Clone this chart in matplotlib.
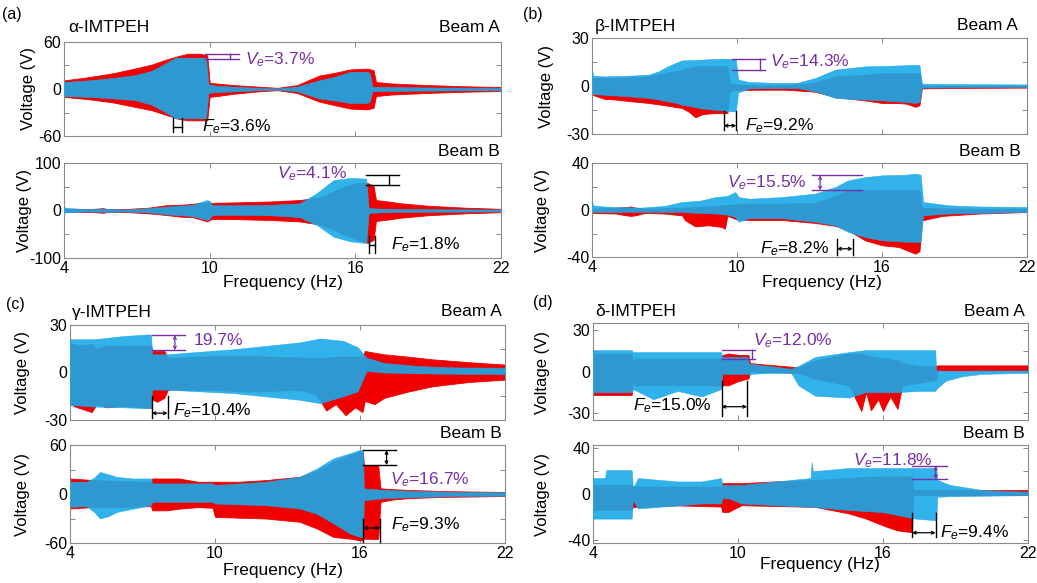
import matplotlib
matplotlib.use("Agg")
import matplotlib.pyplot as plt

plt.rcParams["font.family"] = ["Liberation Sans", "DejaVu Sans"]
plt.rcParams["mathtext.fontset"] = "custom"
plt.rcParams["mathtext.rm"] = "Liberation Sans"
plt.rcParams["mathtext.it"] = "Liberation Sans:italic"

# ---------------------------------------------------------------------------
# Voltage envelopes (upper / lower) versus excitation frequency, Hz / V
# ---------------------------------------------------------------------------
# (a) alpha-IMTPEH, beam A
aA_red_f = [4.0, 5.0, 6.0, 6.9, 7.6, 8.2, 8.7, 9.1, 9.6, 9.9, 10.0, 10.3, 11.0, 12.0, 12.8,
            13.6, 14.5, 15.2, 15.8, 16.5, 16.75, 16.85, 17.5, 19.0, 20.5, 22.0]
aA_red_hi = [11, 15, 20, 26, 31, 37.5, 42, 45, 45, 43, 8, 7, 5, 3, 1.5,
             5, 17, 21, 25, 26, 24, 9, 7, 5, 3.5, 2.5]
aA_red_lo = [-10, -13, -17, -22.7, -27, -33, -38, -40, -40, -40, -10, -9, -6, -3, -1.5,
             -5, -16, -21, -25, -26, -24, -9, -7, -5, -3.5, -2.5]
aA_blue_f = [4.0, 5.0, 6.0, 6.9, 7.6, 8.2, 8.6, 9.0, 9.5, 9.85, 9.95, 10.3, 11.0, 12.0, 12.8,
             13.6, 14.5, 15.2, 15.8, 16.5, 16.6, 16.7, 17.5, 19.0, 22.0]
aA_blue_hi = [9, 11, 14, 17.6, 23, 33, 40, 40, 40, 40, 6, 4, 3, 1.5, 0.8,
              3, 11, 16, 22, 22, 20, 3, 2.5, 2, 1.5]
aA_blue_lo = [-9, -10, -12, -14, -20, -30, -37.5, -37.5, -37.5, -37.5, -5, -4, -3, -1.5, -0.8,
              -3, -12, -15, -18, -18, -16, -3, -2.5, -2, -1.5]

# (a) alpha-IMTPEH, beam B
aB_red_f = [4.0, 5.0, 5.4, 5.6, 5.8, 6.5, 7.5, 8.2, 8.8, 9.3, 9.9, 10.0, 10.1, 11.0, 12.5,
            13.7, 14.6, 15.3, 16.0, 16.5, 16.75, 16.85, 17.2, 17.9, 19.0, 20.5, 22.0]
aB_red_hi = [4, 3, 4, 5, 3, 3, 6, 11, 12, 14, 18.5, 17, 16, 17, 19,
             22, 28, 45, 58, 58, 52, 22, 20, 15, 10, 6, 3.5]
aB_red_lo = [-2.5, -3, -4, -5, -3, -3, -6, -9.4, -13, -14, -23, -20, -18, -18, -20,
             -23, -30, -45, -60, -68, -62, -22, -20, -15, -10, -6, -3.5]
aB_blue_f = [4.0, 4.1, 5.0, 5.6, 6.5, 7.5, 8.2, 8.8, 9.3, 9.9, 10.0, 10.1, 11.0, 12.5,
             13.7, 14.4, 15.1, 15.8, 16.45, 16.55, 17.0, 18.0, 20.0, 22.0]
aB_blue_hi = [8, 5, 3, 4, 2, 5, 8, 10, 12, 22, 20, 11.5, 11, 12,
              15, 36, 64, 68.6, 67, 5, 4, 3, 2.5, 2]
aB_blue_lo = [-4.5, -4, -2, -3, -2, -4, -8, -10, -12, -20, -18, -9.4, -9, -10,
              -14, -30, -55, -65, -68.6, -5, -4, -3, -2.5, -2]

# (b) beta-IMTPEH, beam A
bA_red_f = [4.0, 4.5, 5.0, 5.6, 6.35, 7.0, 7.72, 8.0, 8.27, 8.6, 9.0, 9.4, 9.6, 9.7, 10.0,
            11.0, 12.0, 13.2, 14.1, 15.3, 16.0, 16.6, 17.0, 17.38, 17.55, 17.65, 19.0, 22.0]
bA_red_hi = [5, 5, 5, 5.5, 6, 8, 10, 11.5, 12.3, 12.3, 12.3, 12.3, 12.3, 1.5, 1,
             0.5, 0.5, 2, 6, 7, 8, 8, 8, 8, 8, 0.2, 0.2, 0.2]
bA_red_lo = [-5.4, -8, -8.5, -9.5, -10.6, -12, -13.75, -16, -19.5, -17.5, -17, -17, -17, -3, -2.5,
             -2.3, -2.3, -3.5, -7, -9, -10.6, -10.6, -11, -13, -12, -1.5, -1.2, -1]
bA_blue_f = [4.0, 4.05, 4.5, 5.6, 6.35, 6.76, 7.1, 7.45, 7.72, 8.55, 9.2, 9.8, 9.95, 10.05,
             10.5, 11.5, 12.5, 13.24, 14.07, 15.3, 16.0, 17.0, 17.38, 17.55, 17.65, 19.0, 22.0]
bA_blue_hi = [10, 6.5, 6, 6.5, 7.1, 9.2, 12, 14.4, 16, 16.5, 17, 17, 17, 4,
              2.5, 2, 2, 5, 10.2, 12.3, 12.5, 13, 13.3, 13, 1.5, 1.2, 1]
bA_blue_lo = [-4.4, -5, -5.5, -6.5, -7.5, -8.5, -9.5, -10.5, -11.7, -14, -15, -15.8, -15.8, -4,
              -1.5, -1.3, -1.3, -3.3, -7.5, -8.5, -9, -10, -10.6, -10, -1, -0.8, -0.6]

# (b) beta-IMTPEH, beam B
bB_red_f = [4.0, 5.0, 5.4, 5.6, 5.8, 6.2, 7.0, 7.72, 7.86, 8.27, 8.83, 9.38, 9.5, 9.6, 10.0,
            10.5, 11.86, 13.24, 14.07, 14.6, 15.3, 16.0, 16.7, 17.38, 17.55, 17.65, 18.5, 20.0, 22.0]
bB_red_hi = [1, 2, 2.5, 3, 2, 1, 1.5, 2, 2, 2.5, 3, 4, 4, 4, 5,
             5.4, 5.4, 6, 12, 16.7, 16.7, 16.7, 16.7, 16.7, 16.7, 2, 1.5, 1, 1]
bB_red_lo = [-2.6, -3, -4.5, -5, -4.5, -2.5, -3, -4.5, -8.8, -13.9, -13, -14.5, -16, -5, -8,
             -8.5, -8.5, -11, -13.5, -17.3, -25.8, -30, -31.5, -37.2, -35, -8.8, -5, -3, -1.7]
bB_blue_f = [4.0, 4.05, 4.5, 5.0, 6.0, 7.0, 7.72, 8.5, 9.1, 9.6, 9.93, 10.07, 10.5, 11.86,
             13.24, 14.07, 14.6, 15.3, 16.0, 17.0, 17.38, 17.6, 17.7, 18.76, 20.0, 22.0]
bB_blue_hi = [6.8, 4, 3, 2.6, 2, 3.5, 6.8, 8, 11, 12, 15.3, 11, 9.6, 11,
              14, 19.6, 25.2, 28, 29.5, 30, 31, 30, 6.8, 4, 3, 2.6]
bB_blue_lo = [-1.7, -1.7, -1.7, -1.7, -1.5, -1.7, -1.7, -2.5, -3, -4, -6, -10, -7, -7,
              -10, -13, -18.7, -23, -25.8, -27, -27.2, -27, -4.5, -3, -2.5, -1.7]

# (c) gamma-IMTPEH, beam A
cA_red_f = [4.0, 4.3, 4.9, 5.1, 5.5, 6.2, 7.0, 7.35, 7.4, 7.6, 7.9, 8.05, 8.5, 10.0, 11.5,
            13.5, 14.2, 14.6, 15.0, 15.4, 15.8, 16.1, 16.2, 16.6, 17.0, 18.0, 19.0, 20.5, 22.0]
cA_red_hi = [19, 17, 18, 15, 17, 17, 17, 17, 13.6, 13.6, 13.6, 9.4, 9.4, 10.4, 10.4,
             9.4, 9.4, 9.4, 10, 10, 10, 10, 13.6, 12.5, 11.5, 10, 8.3, 6.5, 5]
cA_red_lo = [-20, -22, -25, -20, -22, -21, -22, -22.5, -17, -18.5, -16, -10.8, -10.8, -11, -12,
             -11, -14, -24, -20, -27, -22, -25, -18, -20, -16, -12, -8.7, -6, -4.5]
cA_blue_f = [4.0, 5.0, 6.2, 7.17, 7.35, 7.4, 8.0, 10.76, 13.5, 14.35, 15.3, 15.9, 16.27,
             17.0, 18.5, 20.0, 22.0]
cA_blue_hi = [21, 21, 23, 24, 24, 11.5, 11.5, 14.7, 19, 21.5, 20, 16, 9.4,
              6, 4, 3.2, 3]
cA_blue_lo = [-20.4, -21.5, -22, -22.5, -22.5, -10.8, -10.8, -13, -17.2, -19.4, -15, -12, 1,
              0, -0.5, -0.8, -1]

# (c) gamma-IMTPEH, beam B
cB_red_f = [4.0, 5.0, 6.0, 7.0, 7.35, 7.4, 8.0, 8.5, 9.3, 9.9, 10.0, 11.0, 12.1, 13.5, 14.2,
            14.9, 15.6, 16.0, 16.12, 16.16, 16.5, 16.75, 16.85, 17.3, 18.0, 19.5, 22.0]
cB_red_hi = [19, 17, 16, 15, 15, 19, 19, 19, 15, 15, 15, 15, 17, 21, 28,
             40, 48, 52, 52, 35.4, 35.4, 35.4, 7, 6, 5, 3.5, 2.5]
cB_red_lo = [-17.8, -15.8, -15.8, -15, -15, -20, -20, -18, -16, -17, -28, -29, -30, -34, -42,
             -52.6, -54.7, -56.7, -56.7, -54.7, -55, -55, -9.6, -7, -5, -3.5, -2.5]
cB_blue_f = [4.0, 4.69, 5.0, 5.24, 5.6, 5.93, 6.6, 7.3, 7.35, 7.4, 9.9, 10.0, 12.1, 13.5,
             14.2, 14.9, 15.6, 16.0, 16.12, 16.16, 17.0, 18.5, 20.0, 22.0]
cB_blue_hi = [15, 15, 20, 27, 24, 21, 19, 19, 19, 13, 13, 11, 15, 21,
              31, 43.6, 50, 54, 54, 6.8, 5, 3.5, 2.5, 2]
cB_blue_lo = [-15.8, -15, -22, -30, -27, -22, -18, -14, -14, -9.6, -9.6, -11.7, -13.7, -17.8,
              -24, -36, -48.5, -52.6, -52.6, -7.6, -5, -3.5, -2.5, -2]

# (d) delta-IMTPEH, beam A
dA_red_f = [4.0, 5.6, 5.66, 5.7, 7.0, 8.5, 9.3, 9.32, 9.6, 10.0, 10.43, 10.5, 11.5, 12.5, 13.2,
            14.0, 14.6, 15.1, 15.3, 15.5, 15.8, 16.0, 16.3, 16.6, 16.8, 17.5, 18.2, 18.25, 20.0, 22.0]
dA_red_hi = [13, 13, 3, 9.3, 9.3, 9.3, 9.3, 11.7, 13, 12, 12, 6, 4.5, 3, 8,
             11, 13, 13, 12, 11, 10, 10, 9, 8, 6, 4, 4, 4.4, 4.4, 4.4]
dA_red_lo = [-17, -17, -3, -10, -10, -10, -10, -10, -10, -7, -5, 0, -0.5, -1, -5.4,
             -8, -10, -28.5, -15, -28, -20, -28.5, -18, -27, -10, -8, -6, 0.7, 0.7, 0.7]
dA_blue_f = [4.0, 5.6, 5.66, 6.5, 7.5, 8.5, 9.3, 9.35, 10.4, 10.45, 11.5, 12.2, 12.5, 13.2,
             14.6, 15.26, 16.5, 17.5, 18.16, 18.2, 18.6, 19.3, 20.1, 22.0]
dA_blue_hi = [15.4, 15.4, 14, 14, 14, 14, 14, 10.5, 10.5, 5.6, 3.5, 2, 4, 10.5,
              14, 15.4, 15.4, 15.4, 15.4, 0.7, 0.5, 0.5, 0.7, 0.7]
dA_blue_lo = [-15, -15, -12.7, -20, -14, -18, -12.7, -1.7, -1.7, -1.7, -1, -1, -10, -17.5,
              -18.8, -15, -15, -14, -14, -12.7, -6.6, -3.4, -1.7, -1]

# (d) delta-IMTPEH, beam B
dB_red_f = [4.0, 5.6, 5.65, 5.86, 7.5, 9.3, 9.35, 9.6, 10.15, 11.5, 13.2, 14.57, 15.3, 16.0,
            16.6, 17.2, 17.25, 19.0, 22.0]
dB_red_hi = [8, 8, 6.5, 6.5, 6.5, 6.5, 9.5, 9.5, 9.5, 11, 12.4, 14, 15, 15.4,
             15.4, 15.4, 3.5, 3.5, 3.5]
dB_red_lo = [-14, -14, -11.3, -11.3, -10, -11, -15.7, -15.7, -9.8, -10.5, -11.3, -17, -21.6, -27.6,
             -32, -33.5, -1, -1, -1]
dB_blue_f = [4.0, 4.5, 4.55, 5.6, 5.65, 5.86, 7.5, 8.5, 9.3, 9.35, 9.6, 10.15, 13.0, 13.05,
             13.1, 14.57, 16.0, 17.34, 18.2, 18.25, 18.76, 20.1, 22.0]
dB_blue_hi = [14, 14, 21, 21, 5, 14, 11, 11, 14, 8, 8, 8, 14, 28,
              20, 22.8, 22.8, 22.8, 22.8, 12.4, 8, 3.5, 2]
dB_blue_lo = [-21.6, -21.6, -21.6, -21.6, -5, -12.7, -10, -8.3, -8.3, -3.8, -3.8, -8.3, -11.3, -11.3,
              -11.3, -14, -16, -21.6, -23, -2.4, -2, -1.5, -1]

# axis settings
x_ticks = [4, 10, 16, 22]
x_tick_labels = ["4", "10", "16", "22"]
y_limits = {"aA": 60, "aB": 100, "bA": 30, "bB": 40, "cA": 30, "cB": 60, "dA": 35, "dB": 43}
y_label_ticks = {"aA": 60, "aB": 100, "bA": 30, "bB": 40, "cA": 30, "cB": 60, "dA": 30, "dB": 40}

# ---------------------------------------------------------------------------
RED = "#F00000"
BLUE = "#1AAAE8"
PURPLE = "#7A2EA6"
W, H = 1037, 583

fig = plt.figure(figsize=(W / 100, H / 100), dpi=100)


def px_axes(left, right, top, bottom):
    return fig.add_axes([left / W, 1 - bottom / H, (right - left) / W, (bottom - top) / H])


def fig_text(x, y, s, **kw):
    fig.text(x / W, 1 - y / H, s, **kw)


def draw_signal(ax, key, rf, rhi, rlo, bf, bhi, blo, show_x):
    ax.fill_between(rf, rlo, rhi, color=RED, lw=0.6, zorder=2)
    ax.fill_between(bf, blo, bhi, facecolor=BLUE, edgecolor=BLUE, lw=0.4, alpha=0.9, zorder=3)
    lim = y_limits[key]
    tl = y_label_ticks[key]
    ax.set_xlim(4, 22)
    ax.set_ylim(-lim, lim)
    ax.set_xticks(x_ticks)
    ax.set_yticks([-tl, -tl / 2, 0, tl / 2, tl])
    ax.set_yticklabels([f"-{tl}", "", "0", "", f"{tl}"])
    if show_x:
        ax.set_xticklabels(x_tick_labels)
    else:
        ax.set_xticklabels([])
    ax.tick_params(direction="in", top=True, right=True, length=3.5, width=0.7,
                   color="#8a8a8a", labelsize=11.5, pad=2)
    for sp in ax.spines.values():
        sp.set_color("#8a8a8a")
        sp.set_linewidth(0.8)


def level_marker(ax, x0, x1, y_top, y_bot, xm, color, arrow):
    ax.plot([x0, x1], [y_top, y_top], color=color, lw=1.0, zorder=5, clip_on=False)
    ax.plot([x0, x1], [y_bot, y_bot], color=color, lw=1.0, zorder=5, clip_on=False)
    if arrow:
        ax.annotate("", xy=(xm, y_top), xytext=(xm, y_bot), zorder=5,
                    arrowprops=dict(arrowstyle="<->", color=color, lw=0.9,
                                    shrinkA=0, shrinkB=0, mutation_scale=5))
    else:
        ax.plot([xm, xm], [y_top, y_bot], color=color, lw=1.0, zorder=5)


def freq_marker(ax, xa, xb, y0, y1, ym, color, arrow):
    ax.plot([xa, xa], [y0, y1], color=color, lw=1.0, zorder=5, clip_on=False)
    ax.plot([xb, xb], [y0, y1], color=color, lw=1.0, zorder=5, clip_on=False)
    if arrow:
        ax.annotate("", xy=(xa, ym), xytext=(xb, ym), zorder=5,
                    arrowprops=dict(arrowstyle="<->", color=color, lw=0.9,
                                    shrinkA=0, shrinkB=0, mutation_scale=5))
    else:
        ax.plot([xa, xb], [ym, ym], color=color, lw=1.0, zorder=5)


FS = 12.5

# ---------------- (a) ----------------
axA = px_axes(64, 501, 42, 136)
draw_signal(axA, "aA", aA_red_f, aA_red_hi, aA_red_lo, aA_blue_f, aA_blue_hi, aA_blue_lo, False)
level_marker(axA, 9.8, 11.2, 45.2, 38.8, 10.85, PURPLE, False)
axA.text(11.46, 38, r"$V_e$=3.7%", color=PURPLE, fontsize=FS, va="center", zorder=6)
freq_marker(axA, 8.5, 8.85, -37.5, -54.5, -48, "black", False)
axA.text(9.67, -48, r"$F_e$=3.6%", color="black", fontsize=FS, va="center", zorder=6)

axB = px_axes(64, 501, 163, 258)
draw_signal(axB, "aB", aB_red_f, aB_red_hi, aB_red_lo, aB_blue_f, aB_blue_hi, aB_blue_lo, True)
level_marker(axB, 16.42, 17.8, 74, 53, 17.4, "black", False)
axB.text(12.77, 77, r"$V_e$=4.1%", color=PURPLE, fontsize=FS, va="center", zorder=6)
freq_marker(axB, 16.56, 16.82, -54.7, -89.5, -72, "black", False)
axB.text(17.46, -72, r"$F_e$=1.8%", color="black", fontsize=FS, va="center", zorder=6)

fig_text(12, 15, "(a)", fontsize=11.5, ha="center", va="center")
fig_text(68, 27, "α-IMTPEH", fontsize=FS, ha="left", va="center")
fig_text(500, 27, "Beam A", fontsize=FS, ha="right", va="center")
fig_text(500, 152, "Beam B", fontsize=FS, ha="right", va="center")
fig_text(28, 89, "Voltage (V)", fontsize=12, rotation=90, ha="center", va="center")
fig_text(25, 210, "Voltage (V)", fontsize=12, rotation=90, ha="center", va="center")
fig_text(283, 283, "Frequency (Hz)", fontsize=12.5, ha="center", va="center")

# ---------------- (b) ----------------
axA = px_axes(592, 1027, 38, 134)
draw_signal(axA, "bA", bA_red_f, bA_red_hi, bA_red_lo, bA_blue_f, bA_blue_hi, bA_blue_lo, False)
level_marker(axA, 9.8, 11.17, 16.9, 10.2, 10.95, PURPLE, False)
axA.text(11.38, 15, r"$V_e$=14.3%", color=PURPLE, fontsize=FS, va="center", zorder=6)
freq_marker(axA, 9.45, 9.97, -15.8, -27.7, -24.8, "black", True)
axA.text(10.35, -24.5, r"$F_e$=9.2%", color="black", fontsize=FS, va="center", zorder=6)

axB = px_axes(592, 1027, 163, 257)
draw_signal(axB, "bB", bB_red_f, bB_red_hi, bB_red_lo, bB_blue_f, bB_blue_hi, bB_blue_lo, True)
level_marker(axB, 13.1, 15.17, 29.5, 16.7, 13.44, PURPLE, True)
axB.text(12.9, 23, r"$V_e$=15.5%", color=PURPLE, fontsize=FS, va="center", ha="right", zorder=6)
freq_marker(axB, 14.14, 14.78, -24.4, -38.6, -33, "black", True)
axB.text(13.8, -33, r"$F_e$=8.2%", color="black", fontsize=FS, va="center", ha="right", zorder=6)

fig_text(533, 15, "(b)", fontsize=11.5, ha="center", va="center")
fig_text(595, 26, "β-IMTPEH", fontsize=FS, ha="left", va="center")
fig_text(1018, 26, "Beam A", fontsize=FS, ha="right", va="center")
fig_text(1021, 152, "Beam B", fontsize=FS, ha="right", va="center")
fig_text(546, 86, "Voltage (V)", fontsize=12, rotation=90, ha="center", va="center")
fig_text(543, 210, "Voltage (V)", fontsize=12, rotation=90, ha="center", va="center")
fig_text(822, 283, "Frequency (Hz)", fontsize=12.5, ha="center", va="center")

# ---------------- (c) ----------------
axA = px_axes(70, 505, 325, 420)
draw_signal(axA, "cA", cA_red_f, cA_red_hi, cA_red_lo, cA_blue_f, cA_blue_hi, cA_blue_lo, False)
level_marker(axA, 7.38, 8.76, 23.6, 14, 8.34, PURPLE, True)
axA.text(9.1, 20, "19.7%", color=PURPLE, fontsize=FS, va="center", zorder=6)
freq_marker(axA, 7.38, 8.04, -15, -29, -25.7, "black", True)
axA.text(8.27, -24, r"$F_e$=10.4%", color="black", fontsize=FS, va="center", zorder=6)

axB = px_axes(70, 505, 445, 543)
draw_signal(axB, "cB", cB_red_f, cB_red_hi, cB_red_lo, cB_blue_f, cB_blue_hi, cB_blue_lo, True)
level_marker(axB, 16.14, 17.5, 53.8, 35.4, 17.1, "black", True)
axB.text(17.24, 17, r"$V_e$=16.7%", color=PURPLE, fontsize=FS, va="center", zorder=6)
freq_marker(axB, 16.14, 16.83, -30, -58.8, -41.6, "black", True)
axB.text(17.3, -38, r"$F_e$=9.3%", color="black", fontsize=FS, va="center", zorder=6)

fig_text(15, 305, "(c)", fontsize=11.5, ha="center", va="center")
fig_text(72, 312, "γ-IMTPEH", fontsize=FS, ha="left", va="center")
fig_text(502, 312, "Beam A", fontsize=FS, ha="right", va="center")
fig_text(502, 433, "Beam B", fontsize=FS, ha="right", va="center")
fig_text(23, 372, "Voltage (V)", fontsize=12, rotation=90, ha="center", va="center")
fig_text(23, 494, "Voltage (V)", fontsize=12, rotation=90, ha="center", va="center")
fig_text(283, 570, "Frequency (Hz)", fontsize=12.5, ha="center", va="center")

# ---------------- (d) ----------------
axA = px_axes(593, 1028, 323, 420)
draw_signal(axA, "dA", dA_red_f, dA_red_hi, dA_red_lo, dA_blue_f, dA_blue_hi, dA_blue_lo, False)
level_marker(axA, 9.32, 10.7, 15.4, 9.3, 10.56, PURPLE, False)
axA.text(10.63, 22.5, r"$V_e$=12.0%", color=PURPLE, fontsize=FS, va="center", zorder=6)
freq_marker(axA, 9.32, 10.38, -6.6, -32, -25.4, "black", True)
axA.text(8.9, -25, r"$F_e$=15.0%", color="black", fontsize=FS, va="center", ha="right", zorder=6)

axB = px_axes(593, 1028, 445, 543)
draw_signal(axB, "dB", dB_red_f, dB_red_hi, dB_red_lo, dB_blue_f, dB_blue_hi, dB_blue_lo, True)
level_marker(axB, 17.2, 18.64, 24.9, 13, 18.18, PURPLE, True)
axB.text(14.77, 29, r"$V_e$=11.8%", color=PURPLE, fontsize=FS, va="center", zorder=6)
freq_marker(axB, 17.2, 18.18, -17, -38, -34, "black", True)
axB.text(18.35, -34, r"$F_e$=9.4%", color="black", fontsize=FS, va="center", zorder=6)

fig_text(543, 303, "(d)", fontsize=11.5, ha="center", va="center")
fig_text(595, 312, "δ-IMTPEH", fontsize=FS, ha="left", va="center")
fig_text(1025, 312, "Beam A", fontsize=FS, ha="right", va="center")
fig_text(1025, 433, "Beam B", fontsize=FS, ha="right", va="center")
fig_text(543, 372, "Voltage (V)", fontsize=12, rotation=90, ha="center", va="center")
fig_text(543, 494, "Voltage (V)", fontsize=12, rotation=90, ha="center", va="center")
fig_text(820, 565, "Frequency (Hz)", fontsize=12.5, ha="center", va="center")

fig.savefig("out.png", dpi=100)
